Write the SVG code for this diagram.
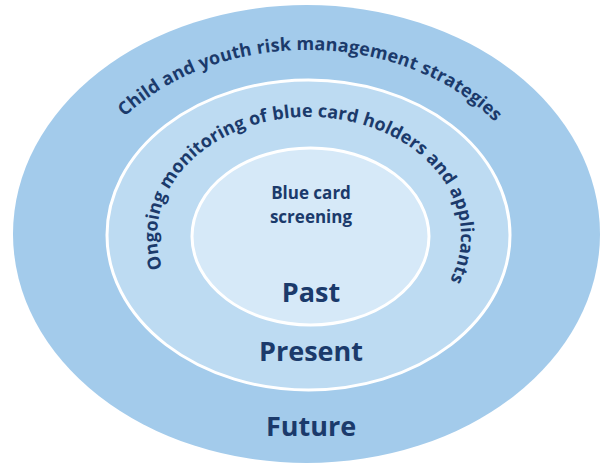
<svg xmlns="http://www.w3.org/2000/svg" xmlns:xlink="http://www.w3.org/1999/xlink" width="611" height="468" viewBox="0 0 611 468">
<style>
.ring{stroke:#ffffff;stroke-width:3}
.lbl{font-family:"Open Sans","Noto Sans","Liberation Sans",sans-serif;fill:#1b3a6b;text-anchor:middle;font-weight:700}
.arc{font-family:"Open Sans","Noto Sans","Liberation Sans",sans-serif;fill:#1b3a6b;font-weight:700}
</style>
<defs>
<path id="outerArc" d="M124.7,116.8 A237,185 0 0 1 495.9,123.1" fill="none"/>
<path id="middleArc" d="M162.6,268 A152,119 0 1 1 449.1,282.1" fill="none"/>
</defs>
<rect width="611" height="468" fill="#ffffff"/>
<g id="future">
<ellipse cx="306.5" cy="234" rx="293.5" ry="229" fill="#a3cbeb"/>
<text class="arc" font-size="18"><textPath xlink:href="#outerArc" href="#outerArc" textLength="405" lengthAdjust="spacing">Child and youth risk management strategies</textPath></text>
<text class="lbl" x="311" y="436" font-size="27">Future</text>
</g>
<g id="present">
<ellipse class="ring" cx="308.5" cy="235" rx="201.5" ry="155" fill="#bddbf2"/>
<text class="arc" font-size="18"><textPath xlink:href="#middleArc" href="#middleArc" textLength="506" lengthAdjust="spacing">Ongoing monitoring of blue card holders and applicants</textPath></text>
<text class="lbl" x="311" y="361" font-size="27">Present</text>
</g>
<g id="past">
<ellipse class="ring" cx="310.5" cy="236.5" rx="118.5" ry="88.5" fill="#d6e9f8"/>
<text class="lbl" x="311" y="199" font-size="17">Blue card</text>
<text class="lbl" x="311" y="223" font-size="17">screening</text>
<text class="lbl" x="311" y="302" font-size="27">Past</text>
</g>
<g id="connectors"></g>
</svg>
